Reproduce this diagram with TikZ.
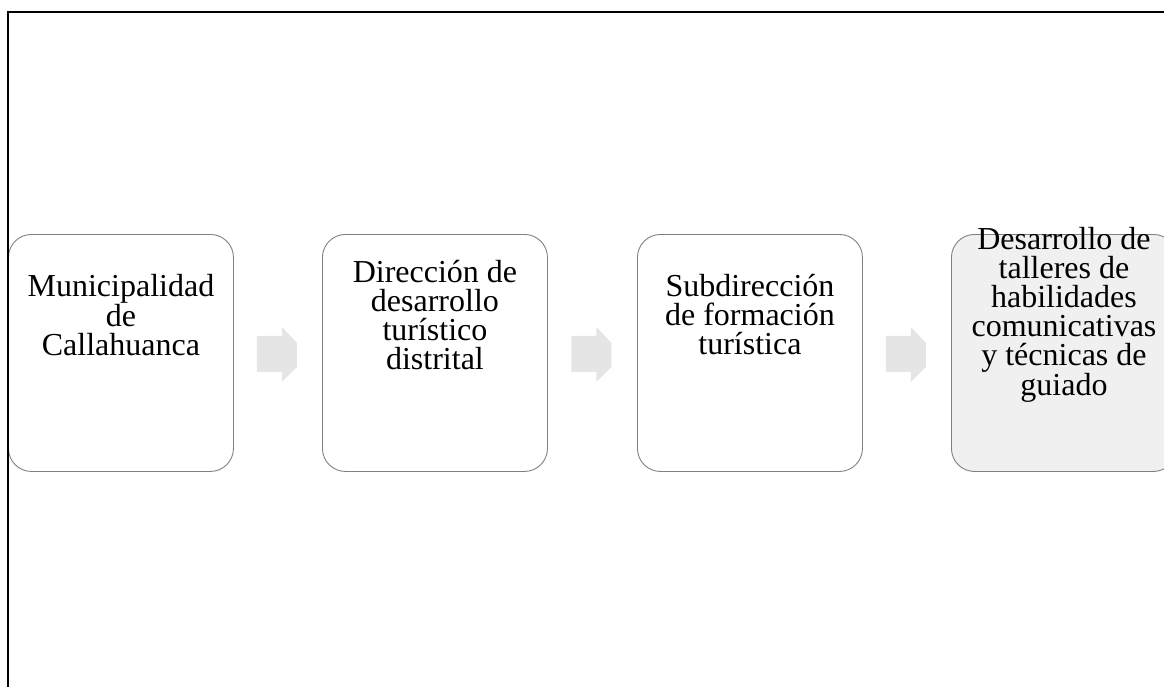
\documentclass[tikz,border=0pt]{standalone}
\usepackage{fontspec}
\setmainfont{Liberation Serif}
\usetikzlibrary{calc}
\begin{document}
\begin{tikzpicture}[x=1pt,y=-1pt,
  box/.style={draw=black!50, line width=0.9pt, rounded corners=23pt, minimum width=225pt, minimum height=237pt, inner sep=0pt, anchor=north west},
  lbl/.style={align=center, font=\fontsize{32}{29}\selectfont, inner sep=0pt},
  arrowshape/.style={fill=black!10, draw=none}]
\useasboundingbox (0,0) rectangle (1164,687);
\begin{scope}
\clip (0,0) rectangle (1164,687);
\node[box] (b1) at (8,234) {};
\node[box] (b2) at (322,234) {};
\node[box] (b3) at (637,234) {};
\node[box, fill=black!6] (b4) at (951,234) {};
\node[lbl] (t1) at ([yshift=38pt]b1.center) {Municipalidad\\de\\Callahuanca};
\node[lbl] (t2) at ([yshift=38pt]b2.center) {Dirección de\\desarrollo\\turístico\\distrital};
\node[lbl] (t3) at ([yshift=38pt]b3.center) {Subdirección\\de formación\\turística};
\node[lbl] (t4) at ([yshift=38pt]b4.center) {Desarrollo de\\talleres de\\habilidades\\comunicativas\\y técnicas de\\guiado};
\coordinate (a1) at ($(b1.east)!0.5!(b2.west)$);
\coordinate (a2) at ($(b2.east)!0.5!(b3.west)$);
\coordinate (a3) at ($(b3.east)!0.5!(b4.west)$);
\foreach \a in {a1,a2,a3}{
  \fill[arrowshape] ([shift={(-21,-17)}]\a) -- ([shift={(4,-17)}]\a) -- ([shift={(4,-26)}]\a)
    -- ([shift={(19,-10)}]\a) -- ([shift={(19,14)}]\a) -- ([shift={(4,29)}]\a)
    -- ([shift={(4,19)}]\a) -- ([shift={(-21,19)}]\a) -- cycle;
}
\end{scope}
\coordinate (c0) at (8,687);
\coordinate (c1) at (8,12);
\coordinate (c2) at (1164,12);
\draw[line width=1.6pt] (c0) -- (c1) -- (c2);
\end{tikzpicture}
\end{document}
